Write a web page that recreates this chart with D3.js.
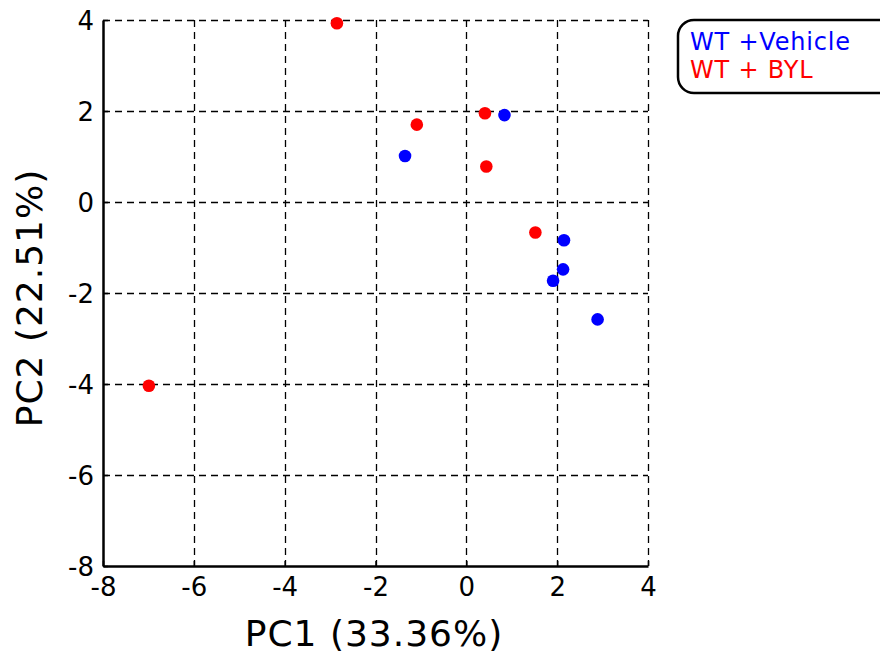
<html>
<head>
  <meta charset="utf-8">
  <script src="https://cdn.jsdelivr.net/npm/d3@7"></script>
</head>
<style>
  body { margin: 0; background: white; }
  text { font-family: "DejaVu Sans", Verdana, sans-serif; }
</style>
<body>
  <svg id="chart"></svg>
  <script type="text/javascript">
    // PCA scores
    var vehicleX = [0.84, -1.35, 2.15, 2.13, 1.91, 2.89];
    var vehicleY = [1.91, 1.01, -0.84, -1.48, -1.73, -2.58];
    var bylX = [-2.85, -6.99, 0.41, -1.09, 0.44, 1.52];
    var bylY = [3.93, -4.04, 1.95, 1.70, 0.78, -0.67];
    var groups = ['WT +Vehicle', 'WT + BYL'];
    var colors = ['blue', 'red'];
    var ticks = [-8, -6, -4, -2, 0, 2, 4];

    var margin = { top: 20, left: 103, bottom: 92, right: 232 };
    var width = 880 - margin.left - margin.right;
    var height = 658 - margin.top - margin.bottom;

    var svg = d3.select('#chart')
      .attr('width', 880)
      .attr('height', 658)
      .append('g')
      .attr('transform', 'translate(' + margin.left + ',' + margin.top + ')');

    var x = d3.scaleLinear().domain([-8, 4]).range([0, width]);
    var y = d3.scaleLinear().domain([-8, 4]).range([height, 0]);

    // dashed grid
    svg.selectAll('.vgrid')
      .data(ticks.slice(1))
      .enter()
      .append('line')
      .attr('x1', function (d) { return Math.round(x(d)) + 0.5; })
      .attr('x2', function (d) { return Math.round(x(d)) + 0.5; })
      .attr('y1', 0)
      .attr('y2', height)
      .attr('stroke', 'black')
      .attr('stroke-width', 1.3)
      .attr('stroke-dasharray', '7,5');
    svg.selectAll('.hgrid')
      .data(ticks.slice(1))
      .enter()
      .append('line')
      .attr('y1', function (d) { return Math.round(y(d)) + 0.5; })
      .attr('y2', function (d) { return Math.round(y(d)) + 0.5; })
      .attr('x1', 0)
      .attr('x2', width)
      .attr('stroke', 'black')
      .attr('stroke-width', 1.3)
      .attr('stroke-dasharray', '7,5');

    // axes
    var fmt = function (d) { return String(d); };
    var xAxis = d3.axisBottom(x).tickValues(ticks).tickFormat(fmt).tickSizeInner(-5).tickSizeOuter(0).tickPadding(12);
    var yAxis = d3.axisLeft(y).tickValues(ticks).tickFormat(fmt).tickSizeInner(-5).tickSizeOuter(0).tickPadding(9);
    var gx = svg.append('g')
      .attr('transform', 'translate(0,' + height + ')')
      .call(xAxis);
    var gy = svg.append('g').call(yAxis);
    [gx, gy].forEach(function (g) {
      g.select('.domain').attr('stroke', 'black').attr('stroke-width', 2.5);
      g.selectAll('.tick line').attr('stroke', 'black').attr('stroke-width', 1.5);
      g.selectAll('.tick text')
        .attr('font-size', 26)
        .attr('font-family', '"DejaVu Sans", Verdana, sans-serif')
        .attr('fill', 'black');
    });
    gy.selectAll('.tick text').attr('dy', '0.36em');

    // points
    function drawPoints(xs, ys, color) {
      svg.append('g').selectAll('circle')
        .data(xs.map(function (v, i) { return [v, ys[i]]; }))
        .enter()
        .append('circle')
        .attr('cx', function (d) { return x(d[0]); })
        .attr('cy', function (d) { return y(d[1]); })
        .attr('r', 6.3)
        .attr('fill', color);
    }
    drawPoints(vehicleX, vehicleY, colors[0]);
    drawPoints(bylX, bylY, colors[1]);

    // axis labels
    d3.select('#chart').append('text')
      .attr('x', 374)
      .attr('y', 646)
      .attr('text-anchor', 'middle')
      .attr('font-size', 36)
      .style('letter-spacing', '1px')
      .text('PC1 (33.36%)');
    d3.select('#chart').append('text')
      .attr('transform', 'translate(42,298) rotate(-90)')
      .attr('text-anchor', 'middle')
      .attr('font-size', 36)
      .style('letter-spacing', '1px')
      .text('PC2 (22.51%)');

    // legend
    var legend = d3.select('#chart').append('g');
    legend.append('rect')
      .attr('x', 678)
      .attr('y', 20)
      .attr('width', 220)
      .attr('height', 73)
      .attr('rx', 16)
      .attr('fill', 'white')
      .attr('stroke', 'black')
      .attr('stroke-width', 2.5);
    legend.selectAll('text')
      .data(groups)
      .enter()
      .append('text')
      .attr('x', 690)
      .attr('y', function (d, i) { return 50 + i * 28; })
      .attr('font-size', 24)
      .style('letter-spacing', '0.8px')
      .attr('fill', function (d, i) { return colors[i]; })
      .style('white-space', 'pre')
      .text(function (d) { return d; });
  </script>
</body>
</html>
